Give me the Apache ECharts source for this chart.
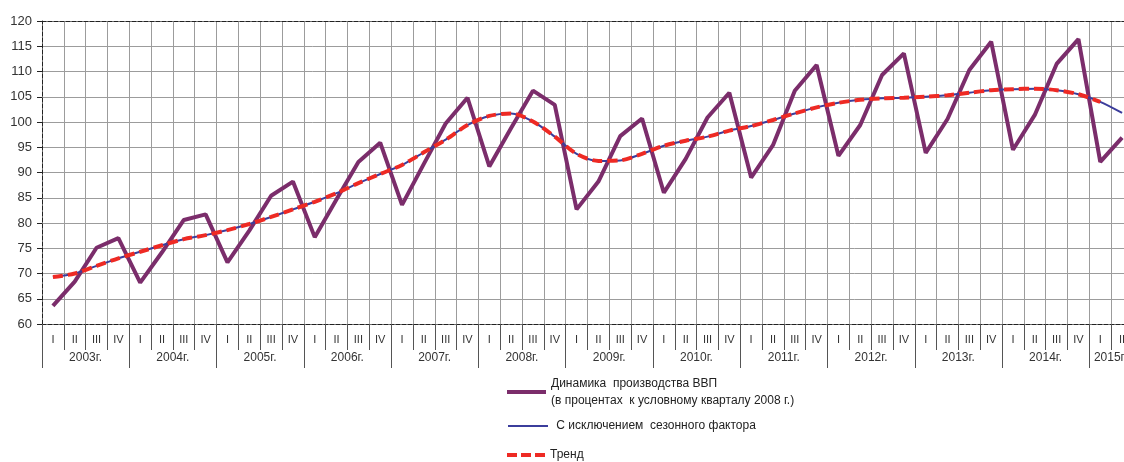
<!DOCTYPE html>
<html>
<head>
<meta charset="utf-8">
<script src="https://cdn.jsdelivr.net/npm/echarts@6/dist/echarts.min.js"></script>
<style>
  html, body { margin: 0; padding: 0; background: #fff; }
  #main { width: 1124px; height: 462px; }
</style>
</head>
<body>
<div id="main"></div>
<script>
// кварталы 2003 I ... 2015 II
var quarters = [
  'I', 'II', 'III', 'IV', 'I', 'II', 'III', 'IV', 'I', 'II', 'III', 'IV',
  'I', 'II', 'III', 'IV', 'I', 'II', 'III', 'IV', 'I', 'II', 'III', 'IV',
  'I', 'II', 'III', 'IV', 'I', 'II', 'III', 'IV', 'I', 'II', 'III', 'IV',
  'I', 'II', 'III', 'IV', 'I', 'II', 'III', 'IV', 'I', 'II', 'III', 'IV',
  'I', 'II'
]
var years = ['2003г.', '2004г.', '2005г.', '2006г.', '2007г.', '2008г.', '2009г.',
  '2010г.', '2011г.', '2012г.', '2013г.', '2014г.', '2015г.']

// Динамика производства ВВП
var gdp = [
  63.6, 68.4, 75.1, 77.0,
  68.2, 74.2, 80.6, 81.7,
  72.2, 78.5, 85.4, 88.2,
  77.2, 84.7, 92.1, 95.9,
  83.6, 91.7, 99.7, 104.8,
  91.2, 98.8, 106.2, 103.4,
  82.7, 88.2, 97.2, 100.7,
  86.0, 92.7, 100.9, 105.8,
  89.0, 95.4, 106.2, 111.3,
  93.3, 99.4, 109.3, 113.6,
  93.9, 100.6, 110.3, 115.9,
  94.5, 101.4, 111.5, 116.4,
  92.1, 96.9
]
// С исключением сезонного фактора
var seasonal = [
  69.3, 70.0, 71.5, 73.0,
  74.3, 75.6, 76.8, 77.6,
  78.6, 79.8, 81.2, 82.7,
  84.2, 85.9, 87.9, 89.7,
  91.5, 94.0, 96.5, 99.4,
  101.2, 101.7, 100.1, 97.1,
  93.7, 92.3, 92.4, 93.7,
  95.3, 96.3, 97.1, 98.3,
  99.2, 100.4, 101.7, 102.9,
  103.8, 104.4, 104.7, 104.8,
  105.0, 105.3, 105.8, 106.3,
  106.5, 106.6, 106.3, 105.5,
  104.0, 101.8
]
// Тренд
var trend = [
  69.3, 70.0, 71.5, 73.0,
  74.3, 75.6, 76.8, 77.6,
  78.6, 79.8, 81.2, 82.7,
  84.2, 85.9, 87.9, 89.7,
  91.5, 94.0, 96.5, 99.4,
  101.2, 101.7, 100.1, 97.1,
  93.7, 92.3, 92.4, 93.7,
  95.3, 96.3, 97.1, 98.3,
  99.2, 100.4, 101.7, 102.9,
  103.8, 104.4, 104.7, 104.8,
  105.0, 105.3, 105.8, 106.3,
  106.5, 106.6, 106.3, 105.5,
  104.0
]

var nameGdp = 'Динамика  производства ВВП'
var nameSeas = ' С исключением  сезонного фактора'
var nameTrend = 'Тренд'

var myChart = echarts.init(document.getElementById('main'))

var dashedAxis = { show: true, lineStyle: { color: '#222', width: 1, type: [4, 2] } }
var font = 'Arial, "Liberation Sans", sans-serif'
// без кружков на значках легенды
var noSymbol = { opacity: 0 }

var option = {
  backgroundColor: '#fff',
  animation: false,
  textStyle: { fontFamily: font },
  grid: {
    left: 42,
    top: 21,
    width: 1091,
    height: 303,
    outerBoundsMode: 'none'
  },
  legend: [
    {
      data: [nameGdp],
      left: 505,
      top: 366.5,
      padding: 0,
      itemWidth: 39,
      itemHeight: 14,
      itemStyle: noSymbol,
      lineStyle: { width: 4 },
      formatter: function (n) {
        return n + '\n(в процентах  к условному кварталу 2008 г.)'
      },
      textStyle: { fontSize: 12, color: '#222', lineHeight: 17, padding: [17, 0, 0, 0] }
    },
    {
      data: [nameSeas],
      left: 507,
      top: 417.5,
      padding: 0,
      itemWidth: 40,
      itemHeight: 14,
      itemStyle: noSymbol,
      lineStyle: { width: 2 },
      textStyle: { fontSize: 12, color: '#222', lineHeight: 17 }
    },
    {
      data: [nameTrend],
      left: 505,
      top: 446.5,
      padding: 0,
      itemWidth: 38,
      itemHeight: 14,
      itemStyle: noSymbol,
      lineStyle: { width: 4, type: [10, 4] },
      textStyle: { fontSize: 12, color: '#222', lineHeight: 17 }
    }
  ],
  xAxis: [
    {
      type: 'category',
      data: quarters,
      position: 'bottom',
      axisLine: dashedAxis,
      axisTick: { show: true, interval: 0, length: 26, lineStyle: { color: '#555' } },
      axisLabel: { interval: 0, margin: 10, fontSize: 11, color: '#333' },
      splitLine: { show: true, interval: 0, lineStyle: { color: '#9c9c9c', width: 1 } }
    },
    {
      // года: границы каждые 4 квартала
      type: 'value',
      min: 0,
      max: 50,
      interval: 4,
      position: 'bottom',
      axisLine: { show: false },
      axisTick: { show: true, length: 44, lineStyle: { color: '#555' } },
      splitLine: { show: false },
      axisLabel: {
        margin: 28,
        showMaxLabel: false,
        formatter: function (v) {
          var i = v / 4
          if (i >= years.length) return ''
          if (i === years.length - 1) return '{h|' + years[i] + '}'
          return '{y|' + years[i] + '}'
        },
        rich: {
          y: { fontSize: 12, color: '#333', padding: [0, 0, 0, 87] },
          h: { fontSize: 12, color: '#333', padding: [0, 0, 0, 42] }
        }
      }
    },
    {
      // верхняя рамка
      type: 'value',
      min: 0,
      max: 50,
      position: 'top',
      axisLine: dashedAxis,
      axisTick: { show: false },
      axisLabel: { show: false },
      splitLine: { show: false }
    }
  ],
  yAxis: {
    type: 'value',
    min: 60,
    max: 120,
    interval: 5,
    axisLine: dashedAxis,
    axisTick: { show: true, length: 5, lineStyle: { color: '#222' } },
    axisLabel: { fontSize: 13, color: '#333', margin: 10 },
    splitLine: { show: true, lineStyle: { color: '#9c9c9c', width: 1 } }
  },
  series: [
    {
      name: nameGdp,
      type: 'line',
      data: gdp,
      symbol: 'none',
      lineStyle: { color: '#7b2d6b', width: 4 },
      itemStyle: { color: '#7b2d6b' },
      z: 3
    },
    {
      name: nameSeas,
      type: 'line',
      data: seasonal,
      symbol: 'none',
      smooth: 0.3,
      lineStyle: { color: '#3b3d9c', width: 2 },
      itemStyle: { color: '#3b3d9c' },
      z: 4
    },
    {
      name: nameTrend,
      type: 'line',
      data: trend,
      symbol: 'none',
      smooth: 0.3,
      lineStyle: { color: '#ee2a24', width: 4, type: [10, 5] },
      itemStyle: { color: '#ee2a24' },
      z: 5
    }
  ]
}
myChart.setOption(option)
</script>
</body>
</html>
